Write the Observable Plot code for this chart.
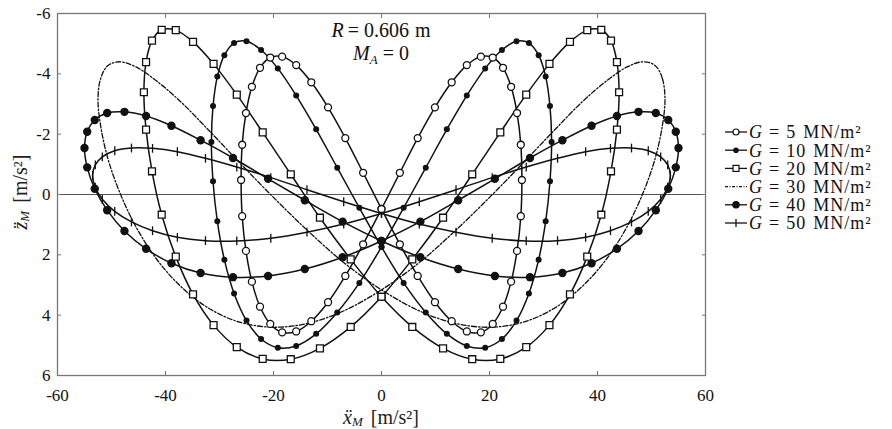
<!DOCTYPE html>
<html>
<head>
<meta charset="utf-8">
<script src="https://cdn.jsdelivr.net/npm/d3@7"></script>
<script src="https://cdn.jsdelivr.net/npm/@observablehq/plot@0.6"></script>
<style>
  html, body { margin: 0; padding: 0; background: #fff; }
  #chart { width: 892px; height: 429px; }
</style>
</head>
<body>
<div id="chart"></div>
<script>
// ---- data ----
const xTicks = [-60, -40, -20, 0, 20, 40, 60];
const yTicks = [-6, -4, -2, 0, 2, 4, 6];
const seriesNames = ["5", "10", "20", "30", "40", "50"];

const g5x = [26,25.8,25.1,24,22.5,20.6,18.4,15.8,13,9.9,6.7,3.4,0,-3.4,-6.7,-9.9,-13,-15.8,-18.4,-20.6,-22.5,-24,-25.1,-25.8,-26,-25.8,-25.1,-24,-22.5,-20.6,-18.4,-15.8,-13,-9.9,-6.7,-3.4,0,3.4,6.7,9.9,13,15.8,18.4,20.6,22.5,24,25.1,25.8];
const g5y = [-0.48,-1.65,-2.7,-3.57,-4.2,-4.54,-4.57,-4.29,-3.72,-2.89,-1.87,-0.72,0.48,1.65,2.7,3.57,4.2,4.54,4.57,4.29,3.72,2.89,1.87,0.72,-0.48,-1.65,-2.7,-3.57,-4.2,-4.54,-4.57,-4.29,-3.72,-2.89,-1.87,-0.72,0.48,1.65,2.7,3.57,4.2,4.54,4.57,4.29,3.72,2.89,1.87,0.72];

const g10x = [31.5,31.2,30.4,29.1,27.3,25,22.3,19.2,15.8,12.1,8.2,4.1,0,-4.1,-8.2,-12.1,-15.8,-19.2,-22.3,-25,-27.3,-29.1,-30.4,-31.2,-31.5,-31.2,-30.4,-29.1,-27.3,-25,-22.3,-19.2,-15.8,-12.1,-8.2,-4.1,0,4.1,8.2,12.1,15.8,19.2,22.3,25,27.3,29.1,30.4,31.2];
const g10y = [-1.74,-2.93,-3.91,-4.62,-5.02,-5.08,-4.79,-4.18,-3.28,-2.16,-0.89,0.44,1.74,2.93,3.91,4.62,5.02,5.08,4.79,4.18,3.28,2.16,0.89,-0.44,-1.74,-2.93,-3.91,-4.62,-5.02,-5.08,-4.79,-4.18,-3.28,-2.16,-0.89,0.44,1.74,2.93,3.91,4.62,5.02,5.08,4.79,4.18,3.28,2.16,0.89,-0.44];

const g20x = [44,43.6,42.5,40.7,38.1,34.9,31.1,26.8,22,16.8,11.4,5.7,0,-5.7,-11.4,-16.8,-22,-26.8,-31.1,-34.9,-38.1,-40.7,-42.5,-43.6,-44,-43.6,-42.5,-40.7,-38.1,-34.9,-31.1,-26.8,-22,-16.8,-11.4,-5.7,0,5.7,11.4,16.8,22,26.8,31.1,34.9,38.1,40.7,42.5,43.6];
const g20y = [-3.39,-4.39,-5.1,-5.46,-5.45,-5.06,-4.33,-3.31,-2.06,-0.67,0.77,2.15,3.39,4.39,5.1,5.46,5.45,5.06,4.33,3.31,2.06,0.67,-0.77,-2.15,-3.39,-4.39,-5.1,-5.46,-5.45,-5.06,-4.33,-3.31,-2.06,-0.67,0.77,2.15,3.39,4.39,5.1,5.46,5.45,5.06,4.33,3.31,2.06,0.67,-0.77,-2.15];

const g30x = [52.5,52,50.7,48.5,45.5,41.7,37.1,32,26.3,20.1,13.6,6.9,0,-6.9,-13.6,-20.1,-26.3,-32,-37.1,-41.7,-45.5,-48.5,-50.7,-52,-52.5,-52,-50.7,-48.5,-45.5,-41.7,-37.1,-32,-26.3,-20.1,-13.6,-6.9,0,6.9,13.6,20.1,26.3,32,37.1,41.7,45.5,48.5,50.7,52];
const g30y = [-3.16,-3.85,-4.27,-4.4,-4.23,-3.77,-3.06,-2.13,-1.06,0.08,1.21,2.27,3.16,3.85,4.27,4.4,4.23,3.77,3.06,2.13,1.06,-0.08,-1.21,-2.27,-3.16,-3.85,-4.27,-4.4,-4.23,-3.77,-3.06,-2.13,-1.06,0.08,1.21,2.27,3.16,3.85,4.27,4.4,4.23,3.77,3.06,2.13,1.06,-0.08,-1.21,-2.27];

const g40x = [55,54.5,53.1,50.8,47.6,43.6,38.9,33.5,27.5,21,14.2,7.2,0,-7.2,-14.2,-21,-27.5,-33.5,-38.9,-43.6,-47.6,-50.8,-53.1,-54.5,-55,-54.5,-53.1,-50.8,-47.6,-43.6,-38.9,-33.5,-27.5,-21,-14.2,-7.2,0,7.2,14.2,21,27.5,33.5,38.9,43.6,47.6,50.8,53.1,54.5];
const g40y = [-1.54,-2.08,-2.47,-2.7,-2.74,-2.6,-2.28,-1.8,-1.21,-0.52,0.19,0.9,1.54,2.08,2.47,2.7,2.74,2.6,2.28,1.8,1.21,0.52,-0.19,-0.9,-1.54,-2.08,-2.47,-2.7,-2.74,-2.6,-2.28,-1.8,-1.21,-0.52,0.19,0.9,1.54,2.08,2.47,2.7,2.74,2.6,2.28,1.8,1.21,0.52,-0.19,-0.9];

const g50x = [53.5,53,51.7,49.4,46.3,42.4,37.8,32.6,26.8,20.5,13.8,7,0,-7,-13.8,-20.5,-26.8,-32.6,-37.8,-42.4,-46.3,-49.4,-51.7,-53,-53.5,-53,-51.7,-49.4,-46.3,-42.4,-37.8,-32.6,-26.8,-20.5,-13.8,-7,0,7,13.8,20.5,26.8,32.6,37.8,42.4,46.3,49.4,51.7,53];
const g50y = [-0.63,-0.98,-1.25,-1.45,-1.54,-1.53,-1.42,-1.2,-0.91,-0.56,-0.16,0.24,0.63,0.98,1.25,1.45,1.54,1.53,1.42,1.2,0.91,0.56,0.16,-0.24,-0.63,-0.98,-1.25,-1.45,-1.54,-1.53,-1.42,-1.2,-0.91,-0.56,-0.16,0.24,0.63,0.98,1.25,1.45,1.54,1.53,1.42,1.2,0.91,0.56,0.16,-0.24];

// ---- build tables ----
const FONT = "'Liberation Serif', 'DejaVu Serif', serif";
const toRows = (xs, ys) => xs.map((x, i) => ({x, y: ys[i]}));
const s5 = toRows(g5x, g5y), s10 = toRows(g10x, g10y), s20 = toRows(g20x, g20y);
const s30 = toRows(g30x, g30y), s40 = toRows(g40x, g40y), s50 = toRows(g50x, g50y);

const vbar = { draw(ctx, size) { const h = Math.sqrt(size) * 0.62; ctx.moveTo(0, -h); ctx.lineTo(0, h); } };
const lineOpts = {x: "x", y: "y", curve: "catmull-rom-closed", stroke: "#111", strokeWidth: 1.5};

const plot = Plot.plot({
  width: 892,
  height: 429,
  marginTop: 13,
  marginRight: 187,
  marginBottom: 54,
  marginLeft: 57,
  style: {fontFamily: FONT, fontSize: "17px", background: "white", color: "#111"},
  x: {domain: [-60, 60]},
  y: {domain: [-6, 6], reverse: true},
  marks: [
    Plot.ruleY([0], {stroke: "#555", strokeWidth: 1.2}),
    Plot.line(s30, {...lineOpts, strokeDasharray: "5,2,1.5,2", strokeWidth: 1.3}),
    Plot.line(s50, lineOpts),
    Plot.line(s40, lineOpts),
    Plot.line(s20, lineOpts),
    Plot.line(s10, lineOpts),
    Plot.line(s5, lineOpts),
    Plot.dot(s50, {x: "x", y: "y", symbol: vbar, r: 4, fill: "none", stroke: "#111", strokeWidth: 1.3}),
    Plot.dot(s40, {x: "x", y: "y", r: 4.2, fill: "#111", stroke: "none"}),
    Plot.dot(s20, {x: "x", y: "y", symbol: "square", r: 3.9, fill: "white", stroke: "#111", strokeWidth: 1.3}),
    Plot.dot(s10, {x: "x", y: "y", r: 3, fill: "#111", stroke: "none"}),
    Plot.dot(s5, {x: "x", y: "y", r: 3.5, fill: "white", stroke: "#111", strokeWidth: 1.3}),
    Plot.frame({stroke: "#777", strokeWidth: 1.3}),
    Plot.axisX({ticks: xTicks, tickFormat: d => String(d), tickSize: 0, tickPadding: 13, label: null}),
    Plot.axisY({ticks: yTicks, tickFormat: d => String(d), tickSize: 0, tickPadding: 7, label: null}),
    Plot.axisX({ticks: xTicks, anchor: "bottom", tickSize: -4, tickFormat: () => "", label: null, stroke: "#777"}),
    Plot.axisX({ticks: xTicks, anchor: "top", tickSize: -4, tickFormat: () => "", label: null, stroke: "#777"}),
    Plot.axisY({ticks: yTicks, anchor: "left", tickSize: -4, tickFormat: () => "", label: null, stroke: "#777"}),
    Plot.axisY({ticks: yTicks, anchor: "right", tickSize: -4, tickFormat: () => "", label: null, stroke: "#777"})
  ]
});

document.getElementById("chart").appendChild(plot);

// ---- annotations, axis titles and legend (real text) ----
const svg = d3.select(plot);
const sx = plot.scale("x"), sy = plot.scale("y");
const cx = sx.apply(0);

const ann = svg.append("g").attr("font-family", FONT).attr("font-size", 20).attr("fill", "#111").attr("text-anchor", "middle");
const t1 = ann.append("text").attr("x", cx).attr("y", sy.apply(-5.2));
t1.append("tspan").attr("font-style", "italic").text("R");
t1.append("tspan").attr("dx", 4).text("=");
t1.append("tspan").attr("dx", 5).text("0.606");
t1.append("tspan").attr("dx", 6).text("m");
const t2 = ann.append("text").attr("x", cx).attr("y", sy.apply(-4.45));
t2.append("tspan").attr("font-style", "italic").text("M");
t2.append("tspan").attr("font-style", "italic").attr("font-size", 13).attr("dy", 4).text("A");
t2.append("tspan").attr("dy", -4).attr("dx", 5).text("=");
t2.append("tspan").attr("dx", 5).text("0");

// x-axis title
const xt = svg.append("text").attr("font-family", FONT).attr("font-size", 20).attr("fill", "#222")
  .attr("text-anchor", "middle").attr("x", cx).attr("y", 424);
xt.append("tspan").attr("font-style", "italic").text("x\u0308");
xt.append("tspan").attr("font-style", "italic").attr("font-size", 13).attr("dy", 2).text("M");
xt.append("tspan").attr("dy", -2).attr("dx", 8).text("[m/s²]");

// y-axis title
const yt = svg.append("text").attr("font-family", FONT).attr("font-size", 20).attr("fill", "#222")
  .attr("text-anchor", "middle").attr("transform", `translate(27,${sy.apply(0) - 2}) rotate(-90)`);
yt.append("tspan").attr("font-style", "italic").text("z\u0308");
yt.append("tspan").attr("font-style", "italic").attr("font-size", 13).attr("dy", 2).text("M");
yt.append("tspan").attr("dy", -2).attr("dx", 8).text("[m/s²]");

// legend
const lg = svg.append("g").attr("font-family", FONT).attr("font-size", 18).attr("fill", "#111")
  .attr("text-anchor", "start").attr("letter-spacing", 1);
const lx0 = 725, lx1 = 747, lmid = 736, ly0 = 132, lstep = 18.2;
seriesNames.forEach((name, i) => {
  const y = ly0 + i * lstep;
  lg.append("line").attr("x1", lx0).attr("x2", lx1).attr("y1", y).attr("y2", y)
    .attr("stroke", "#111").attr("stroke-width", 1.3)
    .attr("stroke-dasharray", i === 3 ? "3,1.5,1,1.5" : null);
  if (i === 0) lg.append("circle").attr("cx", lmid).attr("cy", y).attr("r", 3).attr("fill", "white").attr("stroke", "#111").attr("stroke-width", 1.2);
  if (i === 1) lg.append("circle").attr("cx", lmid).attr("cy", y).attr("r", 2.8).attr("fill", "#111");
  if (i === 2) lg.append("rect").attr("x", lmid - 3).attr("y", y - 3).attr("width", 6).attr("height", 6).attr("fill", "white").attr("stroke", "#111").attr("stroke-width", 1.2);
  if (i === 4) lg.append("circle").attr("cx", lmid).attr("cy", y).attr("r", 3.8).attr("fill", "#111");
  if (i === 5) lg.append("line").attr("x1", lmid).attr("x2", lmid).attr("y1", y - 4).attr("y2", y + 4).attr("stroke", "#111").attr("stroke-width", 1.3);
  const t = lg.append("text").attr("x", lx1 + 2).attr("y", y).attr("dy", "0.35em");
  t.append("tspan").attr("font-style", "italic").text("G");
  t.append("tspan").attr("dx", 6).text("=");
  t.append("tspan").attr("dx", 6).text(name);
  t.append("tspan").attr("dx", 7).text("MN/m²");
});
</script>
</body>
</html>
